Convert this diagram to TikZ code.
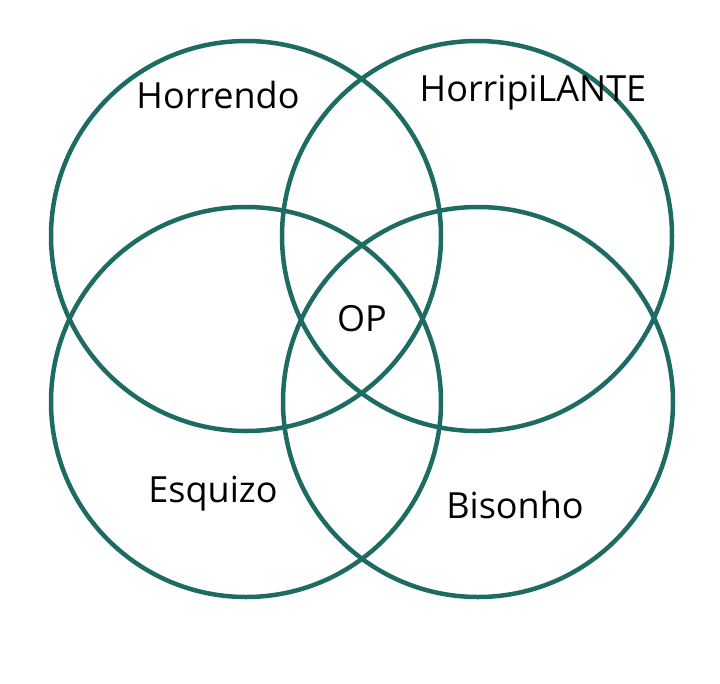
\documentclass[tikz,border=0pt]{standalone}
\usepackage{fontspec}
\setmainfont{Open Sans}
\definecolor{teal}{HTML}{1E6B64}

\begin{document}
\begin{tikzpicture}[x=1pt,y=-1pt, ring/.style={draw=teal, line width=4.5pt}, word/.style={font=\fontsize{36}{42}\selectfont, text=black}]
\useasboundingbox (0,0) rectangle (720,683);
\draw[ring] (246,236) circle (195);
\draw[ring] (477,236) circle (195);
\draw[ring] (246,402) circle (195);
\draw[ring] (478,402) circle (195);
\node[word] (horrendo) at (218,95) {Horrendo};
\node[word] (horripilante) at (533,93) {HorripiLANTE};
\node[word] (op) at (362,319) {OP};
\node[word] (esquizo) at (213,494) {Esquizo};
\node[word] (bisonho) at (515,505) {Bisonho};
\end{tikzpicture}
\end{document}
